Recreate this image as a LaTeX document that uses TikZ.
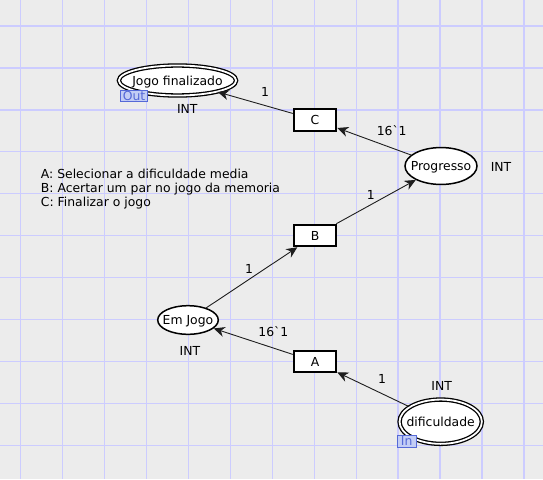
\documentclass[tikz,border=0pt]{standalone}
\usepackage{fontspec}
\newfontfamily\dv{DejaVu Sans}
\usetikzlibrary{arrows.meta,shapes.geometric}
\definecolor{bg}{RGB}{236,236,236}
\definecolor{gridc}{RGB}{204,204,255}
\definecolor{tagb}{RGB}{85,105,215}
\definecolor{tagf}{RGB}{195,205,245}
\definecolor{arcc}{RGB}{30,30,30}
\begin{document}
\begin{tikzpicture}[x=1pt,y=-1pt,
  txt/.style={font=\dv\fontsize{12.4}{13.8}\selectfont},
  lbl/.style={txt, inner sep=0pt, text height=9pt, text depth=0pt},
  place/.style={ellipse, draw, fill=white, line width=1.5pt, inner sep=0pt},
  ioplace/.style={ellipse, draw, fill=white, double=white, double distance=1.8pt, line width=1.3pt, inner sep=0pt},
  trans/.style={rectangle, draw, fill=white, line width=2pt, minimum width=42.6pt, minimum height=21.5pt, inner sep=0pt, lbl},
  tagbox/.style={rectangle, draw=tagb, fill=tagf, text=tagb, line width=1pt, inner sep=0pt, minimum height=11.7pt, lbl},
  arcline/.style={draw=arcc, line width=0.9pt, -{Stealth[length=11pt,width=10pt,inset=3.5pt]}}
]
\useasboundingbox (0,0) rectangle (543,479);
\fill[bg] (0,0) rectangle (543,479);
% grid
\foreach \k in {0,...,12} {
  \draw[gridc, line width=1.2pt] ({20.5+41.95*\k},0) -- ({20.5+41.95*\k},479);
}
\foreach \k in {0,...,10} {
  \draw[gridc, line width=1.2pt] (0,{26+41.95*\k}) -- (543,{26+41.95*\k});
}
% places
\node[ioplace, minimum width=117.2pt, minimum height=30pt, label={[lbl]center:Jogo finalizado}] (jf) at (177.5,80.5) {};
\node[place, minimum width=72pt, minimum height=36.9pt, label={[lbl]center:Progresso}] (pr) at (441,166) {};
\node[place, minimum width=60.6pt, minimum height=28.6pt, label={[lbl]center:Em Jogo}] (ej) at (188,320) {};
\node[ioplace, minimum width=82.3pt, minimum height=44.3pt, label={[lbl]center:dificuldade}] (di) at (440.7,421.7) {};
% transitions
\node[trans] (C) at (315,119.8) {C};
\node[trans] (B) at (315,235.5) {B};
\node[trans] (A) at (315,361.7) {A};
% arcs
\draw[arcline] (di) -- (A);
\draw[arcline] (A) -- (ej);
\draw[arcline] (ej) -- (B);
\draw[arcline] (B) -- (pr);
\draw[arcline] (pr) -- (C);
\draw[arcline] (C) -- (jf);
% tags
\node[tagbox, minimum width=26.6pt] (out) at (134,95.9) {Out};
\node[tagbox, minimum width=18.7pt] (in) at (406.7,441.2) {In};
% type labels
\node[lbl] (t1) at (187.3,109.3) {INT};
\node[lbl] (t2) at (501,166.7) {INT};
\node[lbl] (t3) at (190,351) {INT};
\node[lbl] (t4) at (441.7,386) {INT};
% arc inscriptions
\node[lbl] (i1) at (265,92.3) {1};
\node[lbl] (i2) at (391.7,130.7) {16`1};
\node[lbl] (i3) at (370.7,195) {1};
\node[lbl] (i4) at (249,269) {1};
\node[lbl] (i5) at (273.3,331.7) {16`1};
\node[lbl] (i6) at (382,379.3) {1};
% legend
\node[lbl, anchor=west] (l1) at (40.7,174) {A: Selecionar a dificuldade media};
\node[lbl, anchor=west] (l2) at (40.7,187.5) {B: Acertar um par no jogo da memoria};
\node[lbl, anchor=west] (l3) at (40.7,201.5) {C: Finalizar o jogo};
\end{tikzpicture}
\end{document}
